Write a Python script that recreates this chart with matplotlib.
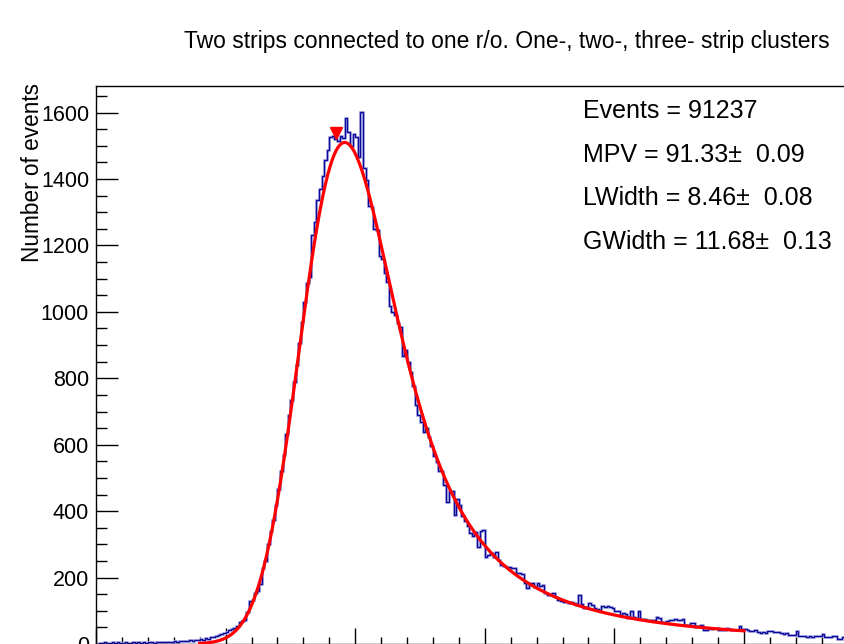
import numpy as np
import matplotlib
matplotlib.use("Agg")
import matplotlib.pyplot as plt
from matplotlib.ticker import MultipleLocator

# Fit results shown in the statistics box
mpv, lwidth, gwidth = 91.33, 8.46, 11.68
mpv_err, lwidth_err, gwidth_err = 0.09, 0.08, 0.13
n_events = 91237
fit_area = 93600.0
fit_range = (40.0, 250.0)

# Histogram: 300 bins of width 1 starting at 0
bin_edges_lo, bin_edges_hi = 0, 300
counts = [
    1, 4, 3, 5, 4, 3, 5, 4, 6, 3, 4, 5, 4, 3, 5, 4, 6, 4, 5, 3,
    5, 6, 4, 5, 6, 5, 7, 6, 5, 7, 8, 7, 9, 8, 10, 9, 11, 10, 13, 12,
    14, 13, 17, 16, 20, 22, 24, 27, 29, 33, 36, 42, 44, 48, 55, 66, 68, 72, 95, 128,
    132, 155, 160, 182, 230, 250, 300, 340, 372, 420,
    468, 520, 570, 632, 690, 735, 790, 840, 905, 968,
    1030, 1088, 1105, 1230, 1272, 1338, 1370, 1410, 1458, 1488,
    1525, 1528, 1519, 1515, 1530, 1522, 1585, 1540, 1500, 1535,
    1525, 1465, 1602, 1434, 1397, 1318, 1316, 1250, 1245, 1168,
    1160, 1118, 1090, 1018, 1000, 990, 965, 955, 866, 886,
    850, 818, 776, 721, 690, 667, 637, 650, 622, 595,
    565, 547, 520, 522, 480, 429, 462, 460, 389, 437,
    420, 384, 370, 356, 334, 324, 336, 293, 339, 344,
    262, 268, 273, 263, 276, 253, 238, 235, 233, 233,
    230, 228, 215, 214, 212, 183, 168, 183, 183, 173,
    185, 175, 177, 153, 148, 150, 153, 141, 133, 128,
    125, 126, 124, 125, 122, 118, 148, 120, 108, 110,
    123, 118, 108, 105, 103, 113, 112, 114, 112, 108,
    100, 99, 87, 92, 91, 77, 100, 80, 79, 100,
    74, 75, 73, 72, 71, 73, 80, 79, 67, 66,
    68, 72, 71, 75, 72, 71, 75, 57, 58, 63,
    62, 52, 53, 57, 42, 43, 47, 46, 49, 48,
    42, 43, 41, 47, 46, 42, 43, 41, 54, 44,
    45, 43, 40, 39, 41, 37, 34, 35, 33, 40,
    39, 37, 36, 37, 32, 31, 33, 27, 28, 26,
    40, 24, 25, 23, 22, 23, 21, 24, 23, 24,
    30, 22, 21, 22, 24, 23, 14, 15, 22, 21,
    20, 18, 22, 19, 17, 20, 18, 16, 19, 17,
]
# Downward triangle drawn above the peak
marker_x, marker_y = 92.6, 1538

title = 'Two strips connected to one r/o. One-, two-, three- strip clusters'
y_title = 'Number of events'


def landau_std(lam):
    """Standard Landau density via inversion of its Laplace transform."""
    lam = np.atleast_1d(lam).astype(float)
    out = np.empty_like(lam)
    y = np.linspace(0, 60, 6001)
    for k, l in enumerate(lam):
        c = min(max(np.exp(-1.0 - l), 0.05), 50.0)
        s = c + 1j * y
        out[k] = np.trapezoid(np.exp(s * np.log(s) + l * s).real, y) / np.pi
    return out


def langaus(x, width, mp, area, gsig):
    """Landau (most probable value mp) convolved with a Gaussian."""
    mpc = mp + 0.22278298 * width
    res = []
    for xv in np.atleast_1d(x):
        xx = np.linspace(xv - 5 * gsig, xv + 5 * gsig, 201)
        fl = landau_std((xx - mpc) / width) / width
        g = np.exp(-0.5 * ((xv - xx) / gsig) ** 2) / (np.sqrt(2 * np.pi) * gsig)
        res.append(area * np.trapezoid(fl * g, xx))
    return np.array(res)


plt.rcParams['font.family'] = ['Liberation Sans', 'DejaVu Sans']

fig = plt.figure(figsize=(8.45, 6.44), dpi=100)
ax = fig.add_axes([96 / 845, 0.0, 777.6 / 845, 558 / 644])
ax.set_xlim(0, 300)
ax.set_ylim(0, 1680)

edges = np.arange(bin_edges_lo, bin_edges_hi + 1)
ax.stairs(counts, edges, baseline=0, color='#b4b4e4', lw=2.0, zorder=2)
ax.stairs(counts, edges, baseline=0, color='#0a0a9a', lw=1.0, zorder=2)

xf = np.linspace(fit_range[0], fit_range[1], 400)
ax.plot(xf, langaus(xf, lwidth, mpv, fit_area, gwidth), color='#ff0000', lw=2.3, zorder=3)
ax.plot([marker_x], [marker_y], marker='v', ms=9, color='#ff0000', ls='none', zorder=4)

ax.xaxis.set_major_locator(MultipleLocator(50))
ax.xaxis.set_minor_locator(MultipleLocator(10))
ax.yaxis.set_major_locator(MultipleLocator(200))
ax.yaxis.set_minor_locator(MultipleLocator(50))
ax.tick_params(axis='y', which='major', direction='in', length=16, width=1, labelsize=15.5, pad=5)
ax.tick_params(axis='y', which='minor', direction='in', length=8, width=1)
ax.tick_params(axis='x', which='major', direction='in', length=11.5, width=1, labelbottom=False)
ax.tick_params(axis='x', which='minor', direction='in', length=5.4, width=1)
for sp in ax.spines.values():
    sp.set_linewidth(1.0)

ax.set_ylabel(y_title, fontsize=16.3, loc='top')
ax.yaxis.set_label_coords(-0.067, 1.005)

fig.text(507 / 845, 1 - 48 / 644, title, ha='center', va='baseline', fontsize=16.5)

stats = ['Events = %d' % n_events,
         'MPV = %.2f\u00b1  %.2f' % (mpv, mpv_err),
         'LWidth = %.2f\u00b1  %.2f' % (lwidth, lwidth_err),
         'GWidth = %.2f\u00b1  %.2f' % (gwidth, gwidth_err)]
for i, s in enumerate(stats):
    fig.text(583 / 845, 1 - (118 + 43.5 * i) / 644, s, ha='left', va='baseline', fontsize=18)

fig.savefig('out.png', dpi=100)
